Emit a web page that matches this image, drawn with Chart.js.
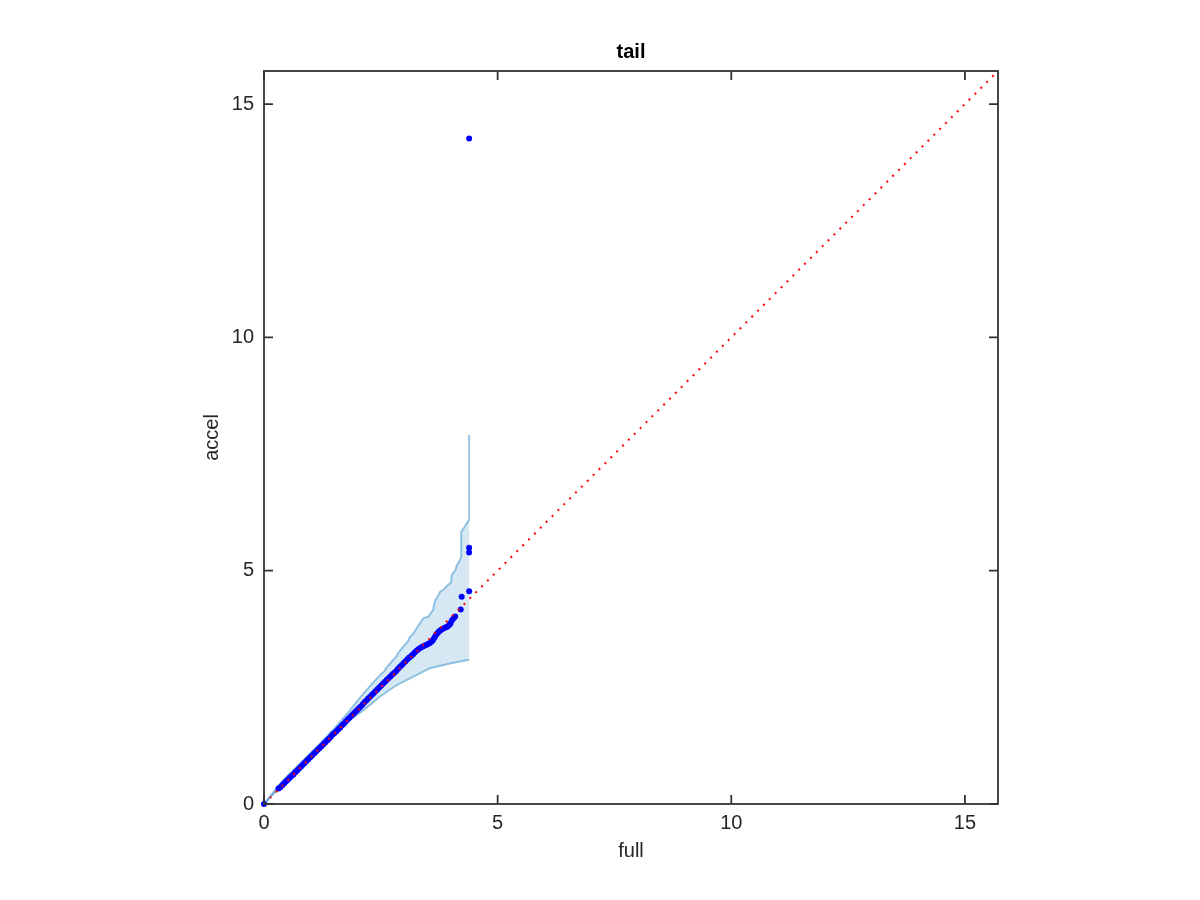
<!DOCTYPE html>
<html>
<head>
<meta charset="utf-8">
<script src="https://cdn.jsdelivr.net/npm/chart.js@4.4.1/dist/chart.umd.min.js"></script>
<style>
html, body { margin: 0; padding: 0; background: #fff; }
</style>
</head>
<body>
<canvas id="myChart" width="1200" height="900"></canvas>
<script>
// axis limits and ticks
const axisMin = 0;
const axisMax = 15.708;
const xTicks = [0, 5, 10, 15];
const yTicks = [0, 5, 10, 15];

// quantile pairs (full vs accel)
const fullQ = [0, 0.31, 0.35, 0.39, 0.43, 0.47, 0.51, 0.55, 0.59, 0.63, 0.67, 0.71, 0.75, 0.79, 0.83, 0.87,
  0.91, 0.95, 0.99, 1.03, 1.07, 1.11, 1.15, 1.19, 1.23, 1.27, 1.31, 1.35, 1.39, 1.43, 1.47, 1.51, 1.55,
  1.59, 1.63, 1.67, 1.71, 1.75, 1.79, 1.83, 1.87, 1.91, 1.95, 1.99, 2.03, 2.07, 2.11, 2.15, 2.19, 2.23,
  2.27, 2.31, 2.35, 2.39, 2.43, 2.47, 2.51, 2.55, 2.59, 2.63, 2.67, 2.71, 2.75, 2.79, 2.83, 2.87, 2.91,
  2.95, 2.99, 3.03, 3.07, 3.11, 3.15, 3.19, 3.23, 3.27, 3.31, 3.35, 3.39, 3.43, 3.47, 3.51, 3.55, 3.59,
  3.62, 3.65, 3.68, 3.71, 3.74, 3.77, 3.80, 3.84, 3.88, 3.92, 3.96, 3.99, 4.02, 4.06, 4.09, 4.21, 4.23,
  4.39, 4.39, 4.39, 4.39];
const accelQ = [0, 0.33, 0.36, 0.40, 0.44, 0.48, 0.52, 0.56, 0.60, 0.63, 0.68, 0.72, 0.76, 0.80, 0.84, 0.88,
  0.92, 0.96, 1.00, 1.04, 1.08, 1.12, 1.16, 1.20, 1.24, 1.28, 1.32, 1.36, 1.40, 1.44, 1.49, 1.52, 1.56,
  1.60, 1.64, 1.69, 1.72, 1.77, 1.81, 1.85, 1.89, 1.93, 1.97, 2.01, 2.05, 2.09, 2.13, 2.18, 2.22, 2.26,
  2.30, 2.34, 2.38, 2.42, 2.46, 2.50, 2.54, 2.58, 2.62, 2.66, 2.70, 2.74, 2.78, 2.81, 2.85, 2.90, 2.94,
  2.98, 3.02, 3.06, 3.10, 3.14, 3.17, 3.21, 3.25, 3.29, 3.32, 3.35, 3.37, 3.39, 3.41, 3.43, 3.45, 3.48,
  3.52, 3.57, 3.62, 3.66, 3.69, 3.72, 3.74, 3.76, 3.78, 3.80, 3.83, 3.87, 3.93, 3.98, 4.02, 4.17, 4.44,
  4.56, 5.39, 5.49, 14.26];

// confidence envelope
const upperX = [0, 0.41, 1.13, 1.48, 1.84, 2.13, 2.45, 2.58, 2.60, 2.70, 2.84, 2.86, 2.98, 3.09, 3.11, 3.20,
  3.30, 3.41, 3.52, 3.62, 3.64, 3.66, 3.72, 3.77, 3.84, 3.92, 4.00, 4.02, 4.10, 4.12, 4.18, 4.22, 4.22,
  4.39, 4.39];
const upperY = [0, 0.51, 1.23, 1.59, 2.01, 2.37, 2.73, 2.85, 2.90, 3.01, 3.17, 3.22, 3.37, 3.50, 3.56, 3.66,
  3.82, 3.98, 4.02, 4.16, 4.27, 4.35, 4.45, 4.55, 4.59, 4.68, 4.74, 4.91, 5.02, 5.10, 5.20, 5.30, 5.83,
  6.09, 7.91];
const lowerX = [0, 0.41, 1.13, 1.48, 1.84, 2.13, 2.48, 2.84, 3.20, 3.55, 3.98, 4.39];
const lowerY = [0, 0.44, 1.09, 1.44, 1.80, 2.01, 2.30, 2.55, 2.73, 2.91, 3.01, 3.09];

// reference line y = x
const refLine = [axisMin, axisMax];

const font = { family: '"Liberation Sans", Arial, Helvetica, sans-serif', size: 20 };
const axisColor = '#262626';

const toPoints = (xs, ys) => xs.map((v, i) => ({ x: v, y: ys[i] }));
const bandShape = toPoints(upperX, upperY).concat(toPoints(lowerX, lowerY).reverse());

// box axes with inward ticks on all four sides
const boxAxes = {
  id: 'boxAxes',
  afterDatasetsDraw(chart) {
    const { ctx, chartArea: a, scales } = chart;
    const len = 9;
    ctx.save();
    ctx.strokeStyle = '#333';
    ctx.lineWidth = 1.8;
    ctx.strokeRect(a.left, a.top, a.right - a.left, a.bottom - a.top);
    ctx.beginPath();
    xTicks.forEach(v => {
      const px = scales.x.getPixelForValue(v);
      ctx.moveTo(px, a.bottom); ctx.lineTo(px, a.bottom - len);
      ctx.moveTo(px, a.top); ctx.lineTo(px, a.top + len);
    });
    yTicks.forEach(v => {
      const py = scales.y.getPixelForValue(v);
      ctx.moveTo(a.left, py); ctx.lineTo(a.left + len, py);
      ctx.moveTo(a.right, py); ctx.lineTo(a.right - len, py);
    });
    ctx.stroke();
    ctx.restore();
  }
};

new Chart('myChart', {
  type: 'scatter',
  data: {
    datasets: [
      {
        // dotted reference line
        data: toPoints(refLine, refLine),
        showLine: true,
        borderColor: '#ff0000',
        borderWidth: 2,
        borderDash: [2, 6.3],
        pointRadius: 0,
        order: 0
      },
      {
        data: toPoints(fullQ, accelQ),
        pointRadius: 3,
        pointBackgroundColor: '#0000ff',
        pointBorderWidth: 0,
        clip: false,
        order: 1
      },
      {
        data: toPoints(upperX, upperY),
        showLine: true,
        borderColor: 'rgba(0,114,189,0.4)',
        borderWidth: 2,
        pointRadius: 0,
        order: 2
      },
      {
        data: toPoints(lowerX, lowerY),
        showLine: true,
        borderColor: 'rgba(0,114,189,0.4)',
        borderWidth: 2,
        pointRadius: 0,
        order: 2
      },
      {
        data: bandShape,
        showLine: true,
        borderWidth: 0,
        borderColor: 'rgba(0,0,0,0)',
        backgroundColor: 'rgba(0,114,189,0.16)',
        fill: 'shape',
        pointRadius: 0,
        order: 3
      }
    ]
  },
  options: {
    responsive: false,
    animation: false,
    layout: { padding: { left: 190, right: 202, top: 0, bottom: 0 } },
    plugins: {
      legend: { display: false },
      tooltip: { enabled: false },
      title: {
        display: true,
        text: 'tail',
        fullSize: false,
        color: '#000',
        font: { family: font.family, size: 20, weight: 'bold' },
        padding: { top: 40, bottom: 7 }
      }
    },
    scales: {
      x: {
        type: 'linear',
        position: 'bottom',
        min: axisMin,
        max: axisMax,
        afterBuildTicks: s => { s.ticks = xTicks.map(v => ({ value: v })); },
        afterFit: s => { s.height = 96; },
        grid: { display: false, drawTicks: false },
        border: { display: false },
        ticks: { font: font, color: axisColor, padding: 7 },
        title: { display: true, text: 'full', font: font, color: axisColor, padding: { top: 0, bottom: 37 } }
      },
      y: {
        type: 'linear',
        position: 'left',
        min: axisMin,
        max: axisMax,
        afterBuildTicks: s => { s.ticks = yTicks.map(v => ({ value: v })); },
        afterFit: s => { s.width = 74; },
        grid: { display: false, drawTicks: false },
        border: { display: false },
        ticks: { font: font, color: axisColor, padding: 10 },
        title: { display: true, text: 'accel', font: font, color: axisColor, padding: { top: 10, bottom: 0 } }
      }
    }
  },
  plugins: [boxAxes]
});
</script>
</body>
</html>
